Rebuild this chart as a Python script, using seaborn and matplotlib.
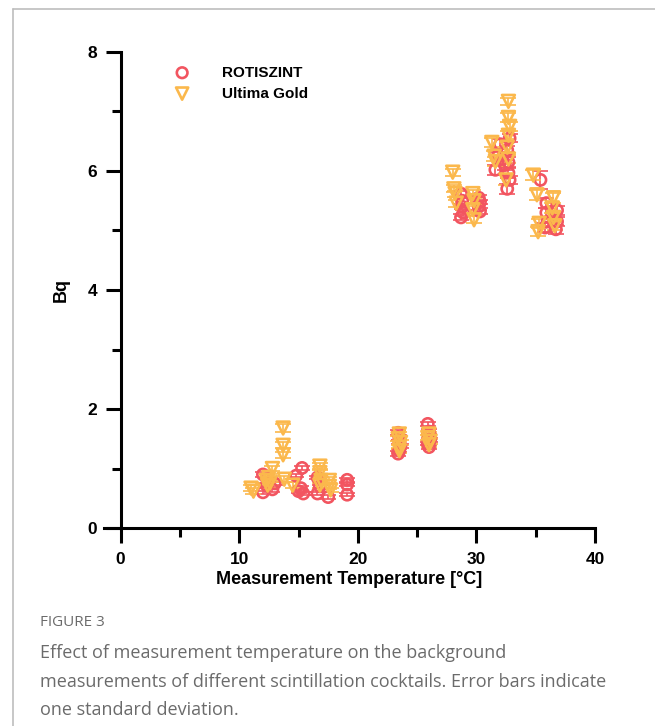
import matplotlib
matplotlib.use("Agg")
import matplotlib.pyplot as plt
from matplotlib.lines import Line2D
from matplotlib.ticker import MultipleLocator
import seaborn as sns
import pandas as pd

# ROTISZINT: temperature [°C], mean Bq, one standard deviation
rot_temp = [12.0, 12.0, 12.3, 12.8, 13.0, 14.8, 15.3, 15.0, 15.4, 15.2, 16.6, 16.6, 16.8, 17.5,
            19.1, 19.1, 19.1,
            23.4, 23.5, 23.5, 23.6, 23.5, 23.4, 25.9, 26.0, 26.0, 26.1, 25.9, 26.0,
            28.7, 28.8, 28.8, 28.9, 28.7, 30.2, 30.3, 30.2, 30.3,
            31.6, 31.8, 32.0, 32.2, 32.4, 32.6, 32.7, 32.8, 32.6, 32.8, 32.7,
            35.4, 35.9, 35.9, 36.0, 35.8, 36.8, 36.8, 36.7]
rot_bq = [0.90, 0.60, 0.72, 0.65, 0.75, 0.88, 1.01, 0.62, 0.58, 0.67, 0.85, 0.58, 0.70, 0.52,
          0.81, 0.73, 0.56,
          1.60, 1.52, 1.45, 1.38, 1.30, 1.25, 1.75, 1.62, 1.55, 1.48, 1.42, 1.36,
          5.62, 5.50, 5.40, 5.30, 5.22, 5.55, 5.48, 5.40, 5.32,
          6.02, 6.25, 6.45, 6.20, 6.10, 6.35, 5.97, 5.85, 5.70, 6.55, 6.15,
          5.85, 5.46, 5.30, 5.15, 5.05, 5.34, 5.15, 5.02]
rot_sd = [0.04, 0.03, 0.03, 0.04, 0.03, 0.03, 0.03, 0.03, 0.03, 0.04, 0.03, 0.03, 0.03, 0.03,
          0.03, 0.03, 0.03,
          0.04, 0.04, 0.03, 0.04, 0.03, 0.04, 0.04, 0.04, 0.03, 0.04, 0.03, 0.04,
          0.05, 0.05, 0.04, 0.05, 0.05, 0.05, 0.04, 0.05, 0.05,
          0.08, 0.07, 0.08, 0.07, 0.08, 0.07, 0.08, 0.07, 0.08, 0.07, 0.08,
          0.15, 0.08, 0.07, 0.08, 0.07, 0.08, 0.07, 0.08]

# Ultima Gold
ug_temp = [11.0, 11.2, 12.3, 12.4, 12.5, 12.6, 12.8, 13.7, 13.7, 13.7, 13.8, 14.5,
           16.8, 16.8, 16.9, 16.8, 17.6, 17.6, 17.7,
           23.5, 23.4, 23.6, 23.5, 23.5, 26.0, 25.9, 26.1, 26.0,
           28.0, 28.1, 28.2, 28.3, 29.7, 29.8, 29.7, 29.8,
           31.3, 31.5, 31.6, 32.7, 32.7, 32.8, 32.7, 32.6, 32.7, 32.5,
           34.8, 35.1, 35.3, 35.2, 36.5, 36.4, 36.5, 36.6]
ug_bq = [0.67, 0.62, 0.80, 0.72, 0.85, 0.76, 1.00, 1.68, 1.39, 1.23, 0.82, 0.72,
         1.04, 0.93, 0.80, 0.72, 0.80, 0.70, 0.64,
         1.58, 1.50, 1.44, 1.36, 1.30, 1.58, 1.52, 1.46, 1.40,
         5.98, 5.70, 5.62, 5.46, 5.62, 5.50, 5.35, 5.18,
         6.48, 6.25, 6.16, 7.17, 6.90, 6.75, 6.60, 6.40, 6.20, 5.85,
         5.93, 5.60, 5.12, 4.98, 5.55, 5.38, 5.22, 5.08]
ug_sd = [0.05, 0.05, 0.05, 0.04, 0.05, 0.04, 0.05, 0.06, 0.05, 0.05, 0.05, 0.05,
         0.05, 0.05, 0.05, 0.04, 0.05, 0.05, 0.04,
         0.04, 0.04, 0.04, 0.04, 0.04, 0.04, 0.04, 0.04, 0.04,
         0.06, 0.06, 0.05, 0.06, 0.06, 0.05, 0.06, 0.06,
         0.07, 0.08, 0.07, 0.06, 0.07, 0.08, 0.07, 0.08, 0.07, 0.08,
         0.08, 0.08, 0.08, 0.08, 0.08, 0.08, 0.08, 0.08]

series_names = ["ROTISZINT", "Ultima Gold"]
colors = {"ROTISZINT": "#f25560", "Ultima Gold": "#fbb84c"}
markers = {"ROTISZINT": "o", "Ultima Gold": "v"}

caption_head = "FIGURE 3"
caption_body = ("Effect of measurement temperature on the background\n"
                "measurements of different scintillation cocktails. Error bars indicate\n"
                "one standard deviation.")

df = pd.concat([
    pd.DataFrame({"temp": rot_temp, "bq": rot_bq, "sd": rot_sd, "cocktail": "ROTISZINT"}),
    pd.DataFrame({"temp": ug_temp, "bq": ug_bq, "sd": ug_sd, "cocktail": "Ultima Gold"}),
])

sns.set_style("white")
plt.rcParams["font.family"] = ["Liberation Sans", "DejaVu Sans"]
plt.rcParams["text.color"] = "black"
plt.rcParams["axes.labelcolor"] = "black"

fig = plt.figure(figsize=(6.55, 7.26), dpi=100)
ax = fig.add_axes([0.1588, 0.2727, 0.7496, 0.6557])

for name in series_names:
    sub = df[df["cocktail"] == name]
    ax.errorbar(sub["temp"], sub["bq"], yerr=sub["sd"], fmt="none",
                ecolor=colors[name], elinewidth=1.2, capsize=5.5, capthick=1.2, zorder=2)
    sns.scatterplot(data=sub, x="temp", y="bq", ax=ax, marker=markers[name],
                    s=65 if name == "ROTISZINT" else 85, facecolor="none",
                    edgecolor=colors[name], linewidth=1.9, label=name, zorder=3)

ax.set_xlim(-1.4, 40)
ax.set_ylim(0, 8)
ax.spines["left"].set_position(("data", 0))
ax.spines["right"].set_visible(False)
ax.spines["top"].set_visible(False)
for sp in ("left", "bottom"):
    ax.spines[sp].set_linewidth(2.2)
    ax.spines[sp].set_color("black")

ax.xaxis.set_major_locator(MultipleLocator(10))
ax.xaxis.set_minor_locator(MultipleLocator(5))
ax.yaxis.set_major_locator(MultipleLocator(2))
ax.yaxis.set_minor_locator(MultipleLocator(1))
ax.tick_params(which="major", direction="out", length=11, width=2.2, color="black",
               labelsize=12.5, labelcolor="black", pad=6, bottom=True, left=True)
ax.tick_params(which="minor", direction="out", length=6.5, width=2.2, color="black",
               bottom=True, left=True)
for lab in ax.get_xticklabels() + ax.get_yticklabels():
    lab.set_fontweight("bold")

ax.set_xlabel("Measurement Temperature [°C]", fontsize=13, fontweight="bold", labelpad=3)
ax.set_ylabel("Bq", fontsize=13, fontweight="bold")
ax.yaxis.set_label_coords(-0.07, 0.5)

leg = ax.legend(loc="upper left", bbox_to_anchor=(0.1, 1.0), frameon=False,
                prop={"weight": "bold", "size": 11}, handletextpad=1.6, labelspacing=0.45,
                markerscale=0.95)

# page frame lines
fig.add_artist(Line2D([0.02, 0.02], [0, 0.988], color="#bdbdbd", lw=1.2))
fig.add_artist(Line2D([0.02, 1.0], [0.988, 0.988], color="#bdbdbd", lw=1.2))

fig.text(0.061, 0.143, caption_head, fontsize=11, color="#6b6b6b",
         family=["Open Sans", "DejaVu Sans"], va="center")
fig.text(0.061, 0.113, caption_body, fontsize=13, color="#6b6b6b",
         family=["Open Sans", "DejaVu Sans"], va="top", linespacing=1.76)

fig.savefig("out.png", dpi=100)
